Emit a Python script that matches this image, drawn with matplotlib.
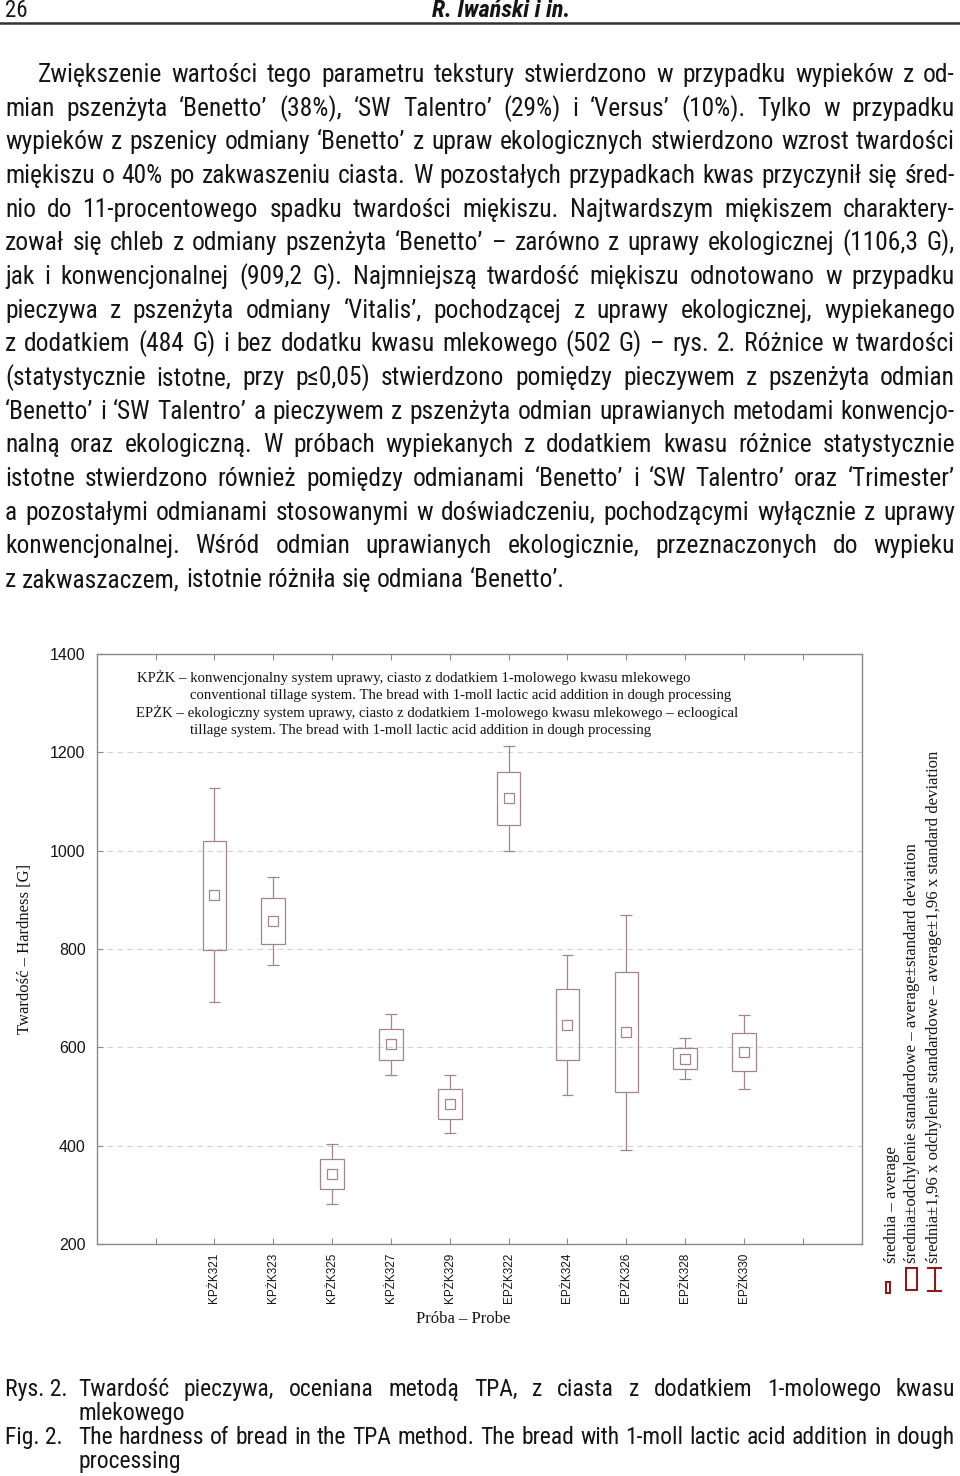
import numpy as np
import matplotlib
matplotlib.use("Agg")
import matplotlib.pyplot as plt
from matplotlib import font_manager
from matplotlib.patches import Rectangle
from matplotlib.lines import Line2D
from matplotlib.transforms import Affine2D

# ---------- data ----------
samples = ["KPŻK321", "KPŻK323", "KPŻK325", "KPŻK327", "KPŻK329",
           "EPŻK322", "EPŻK324", "EPŻK326", "EPŻK328", "EPŻK330"]
means = [909.2, 857, 342, 606, 485, 1106.3, 646, 631, 577, 590]
sds = [111, 46, 31, 32, 30, 54.5, 72.5, 122, 21, 38.5]

yticks = [200, 400, 600, 800, 1000, 1200, 1400]

note_lines = [
    "KPŻK – konwencjonalny system uprawy, ciasto z dodatkiem 1-molowego kwasu mlekowego",
    "conventional tillage system. The bread with 1-moll lactic acid addition in dough processing",
    "EPŻK – ekologiczny system uprawy, ciasto z dodatkiem 1-molowego kwasu mlekowego – ecloogical",
    "tillage system. The bread with 1-moll lactic acid addition in dough processing",
]
legend_labels = [
    "średnia – average",
    "średnia±odchylenie standardowe – average±standard deviation",
    "średnia±1,96 x odchylenie standardowe – average±1,96 x standard deviation",
]

body_lines = [
    "Zwiększenie wartości tego parametru tekstury stwierdzono w przypadku wypieków z od-",
    "mian pszenżyta ‘Benetto’ (38%), ‘SW Talentro’ (29%) i ‘Versus’ (10%). Tylko w przypadku",
    "wypieków z pszenicy odmiany ‘Benetto’ z upraw ekologicznych stwierdzono wzrost twardości",
    "miękiszu o 40% po zakwaszeniu ciasta. W pozostałych przypadkach kwas przyczynił się śred-",
    "nio do 11-procentowego spadku twardości miękiszu. Najtwardszym miękiszem charaktery-",
    "zował się chleb z odmiany pszenżyta ‘Benetto’ – zarówno z uprawy ekologicznej (1106,3 G),",
    "jak i konwencjonalnej (909,2 G). Najmniejszą twardość miękiszu odnotowano w przypadku",
    "pieczywa z pszenżyta odmiany ‘Vitalis’, pochodzącej z uprawy ekologicznej, wypiekanego",
    "z dodatkiem (484 G) i bez dodatku kwasu mlekowego (502 G) – rys. 2. Różnice w twardości",
    "(statystycznie istotne, przy p≤0,05) stwierdzono pomiędzy pieczywem z pszenżyta odmian",
    "‘Benetto’ i ‘SW Talentro’ a pieczywem z pszenżyta odmian uprawianych metodami konwencjo-",
    "nalną oraz ekologiczną. W próbach wypiekanych z dodatkiem kwasu różnice statystycznie",
    "istotne stwierdzono również pomiędzy odmianami ‘Benetto’ i ‘SW Talentro’ oraz ‘Trimester’",
    "a pozostałymi odmianami stosowanymi w doświadczeniu, pochodzącymi wyłącznie z uprawy",
    "konwencjonalnej. Wśród odmian uprawianych ekologicznie, przeznaczonych do wypieku",
    "z zakwaszaczem, istotnie różniła się odmiana ‘Benetto’.",
]
caption = [
    ("Rys. 2.", "Twardość pieczywa, oceniana metodą TPA, z ciasta z dodatkiem 1-molowego kwasu", True),
    ("", "mlekowego", False),
    ("Fig. 2.", "The hardness of bread in the TPA method. The bread with 1-moll lactic acid addition in dough", True),
    ("", "processing", False),
]

# ---------- page setup ----------
W, H = 960, 1476
fig = plt.figure(figsize=(W / 100, H / 100), dpi=100)
fig.patch.set_facecolor("white")
pix = Affine2D().scale(1.0 / W, -1.0 / H).translate(0, 1) + fig.transFigure
renderer = fig.canvas.get_renderer()

avail = {f.name for f in font_manager.fontManager.ttflist}


def pick(cands):
    return next((c for c in cands if c in avail), "DejaVu Sans")


NARROW = pick(["Liberation Sans Narrow", "Arial Narrow", "Nimbus Sans Narrow",
               "Roboto Condensed", "Liberation Sans"])
SANS = pick(["Liberation Sans", "Arimo", "DejaVu Sans"])
SERIF = pick(["Liberation Serif", "Tinos", "DejaVu Serif"])
NFAM = [NARROW, "DejaVu Sans"]
INK = "#151515"


def width(s, size, **kw):
    t = fig.text(0, 0, s, fontsize=size, family=NFAM, **kw)
    w = t.get_window_extent(renderer).width
    t.remove()
    return w


def fit(lines, target):
    # lines: (text, left, right); shrink until the tightest line fits
    k = min((r - l) / width(s, target) for s, l, r in lines)
    return target * min(1.0, k * 0.99)


def set_line(s, x0, x1, y, size, justify=True, **kw):
    words = s.split(" ")
    arts = [fig.text(0, 0, w, transform=pix, fontsize=size, family=NFAM,
                     ha="left", va="baseline", color=INK, **kw) for w in words]
    ws = [a.get_window_extent(renderer).width for a in arts]
    space = width("a a", size) - width("aa", size)
    gap = (x1 - x0 - sum(ws)) / (len(words) - 1) if justify and len(words) > 1 else space
    x = x0
    for a, w in zip(arts, ws):
        a.set_position((x, y))
        x += w + gap


# header
fig.text(5, 17, "26", transform=pix, fontsize=16.5, family=NFAM, color=INK, va="baseline")
fig.text(501, 17, "R. Iwański i in.", transform=pix, fontsize=17.5, family=NFAM, color=INK,
         va="baseline", ha="center", fontweight="bold", fontstyle="italic")
fig.add_artist(Line2D([0, W], [23, 23], transform=pix, color="#333333", lw=1.8))

# body paragraph, justified
LEFT, RIGHT = 5, 955
spec = [(s, LEFT + (33 if i == 0 else 0), RIGHT) for i, s in enumerate(body_lines[:-1])]
bsize = fit(spec, 19.5)
for i, s in enumerate(body_lines):
    x0 = LEFT + (33 if i == 0 else 0)
    set_line(s, x0, RIGHT, 82 + 33.67 * i, bsize, justify=(i < len(body_lines) - 1))

# caption
cspec = [(s, 78, RIGHT) for _, s, j in caption if j]
csize = fit(cspec, 19.5)
for i, (lab, s, j) in enumerate(caption):
    y = 1396 + 24 * i
    if lab:
        fig.text(LEFT, y, lab, transform=pix, fontsize=csize, family=NFAM, color=INK, va="baseline")
    set_line(s, 78, RIGHT, y, csize, justify=j)

# ---------- chart ----------
ax = fig.add_axes([96.7 / W, (H - 1244) / H, (861.7 - 96.7) / W, (1244 - 654) / H])
box_color = "#a3868c"
positions = np.arange(len(samples)) + 2

for x, m, s in zip(positions, means, sds):
    ax.add_patch(Rectangle((x - 0.2, m - s), 0.4, 2 * s, fill=False, ec=box_color, lw=0.9, zorder=3))
    ax.vlines([x, x], [m + s, m - 1.96 * s], [m + 1.96 * s, m - s], color=box_color, lw=0.9, zorder=3)
    ax.hlines([m + 1.96 * s, m - 1.96 * s], x - 0.1, x + 0.1, color=box_color, lw=0.9, zorder=3)
ax.plot(positions, means, ls="none", marker="s", ms=6.5, mfc="none", mec=box_color, mew=0.9, zorder=4)

ax.set_xlim(0, 13)
ax.set_ylim(200, 1400)
ax.set_yticks(yticks)
ax.set_yticklabels([str(v) for v in yticks], fontsize=11.5, family=SANS, color=INK)
ax.set_xticks(np.arange(1, 13))
ax.set_xticklabels([""] + samples + [""], rotation=90, fontsize=8.5, family=SANS, color=INK)
ax.tick_params(axis="x", direction="in", length=4, color="#8a8a8a", top=True, pad=6)
ax.tick_params(axis="y", direction="in", length=4, color="#8a8a8a", pad=8)
for sp in ax.spines.values():
    sp.set_color("#8a8a8a")
    sp.set_linewidth(1.0)
ax.set_axisbelow(True)
ax.yaxis.grid(True, ls=(0, (5, 4)), color="#d2d2d2", lw=0.8)

ax.set_xlabel("Próba – Probe", fontsize=12, family=SERIF, color=INK)
ax.xaxis.set_label_coords(0.479, -0.113)
ax.set_ylabel("Twardość – Hardness [G]", fontsize=12, family=SERIF, color=INK)
ax.yaxis.set_label_coords(-0.083, 0.5)

# note inside the plot
for (s, x, y) in zip(note_lines, [137, 190, 136, 190], [682, 699, 717, 734]):
    fig.text(x, y, s, transform=pix, fontsize=10.6, family=SERIF, color=INK, va="baseline")

# legend on the right, rotated
for s, x in zip(legend_labels, [896, 916, 938]):
    fig.text(x, 1263, s, transform=pix, fontsize=12.1, family=SERIF, color=INK,
             rotation=90, rotation_mode="anchor", ha="left", va="baseline")
red = "#8b1c1c"
fig.add_artist(Rectangle((886, 1282), 4, 11, transform=pix, fill=False, ec=red, lw=1.5))
fig.add_artist(Rectangle((906, 1268), 11, 22, transform=pix, fill=False, ec=red, lw=1.5))
fig.add_artist(Line2D([934.5, 934.5], [1268, 1291], transform=pix, color=red, lw=1.5))
fig.add_artist(Line2D([928, 941], [1268, 1268], transform=pix, color=red, lw=1.5))
fig.add_artist(Line2D([928, 941], [1291, 1291], transform=pix, color=red, lw=1.5))

fig.savefig("out.png", dpi=100, facecolor="white")
